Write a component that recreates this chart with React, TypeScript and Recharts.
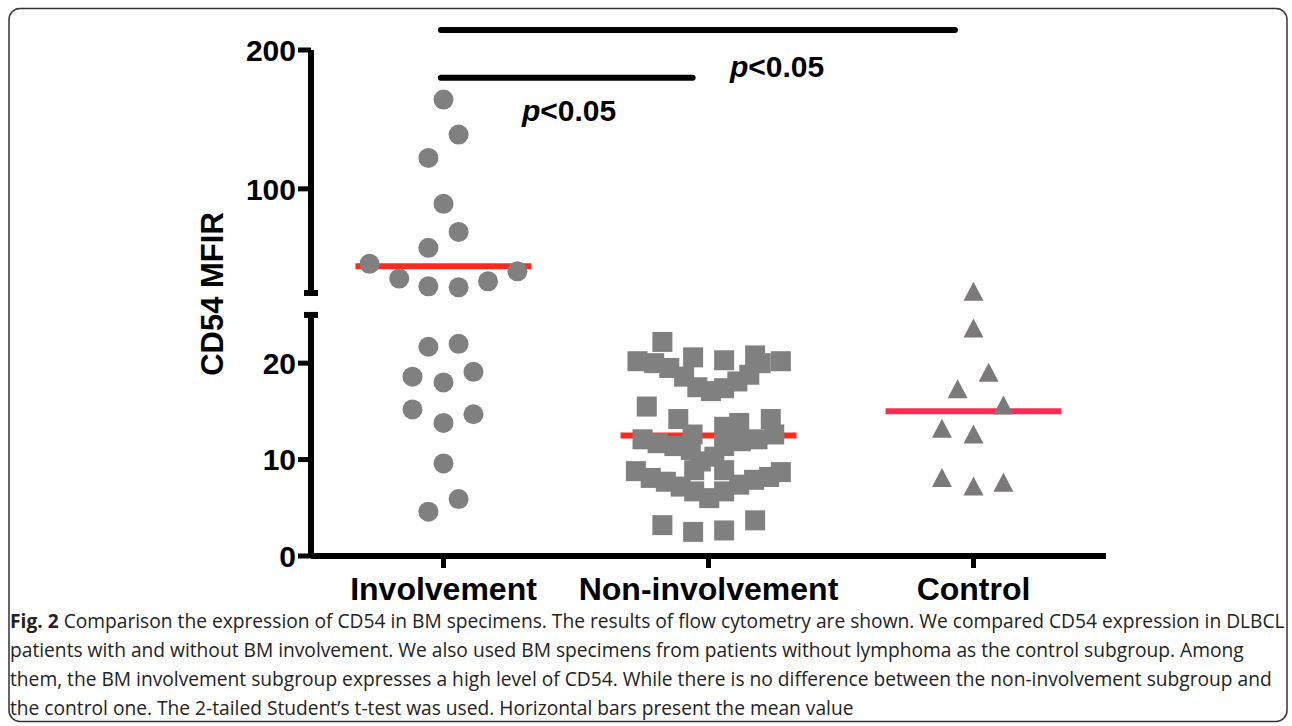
import React from 'react';
import { ScatterChart, Scatter, XAxis, YAxis, ReferenceLine, ReferenceDot } from 'recharts';

const FONT = "Arial, 'Liberation Sans', Helvetica, sans-serif";
const CAPTION_FONT = "'Open Sans', 'Noto Sans', sans-serif";

// ---------- data ----------
const categories = ['Involvement', 'Non-involvement', 'Control'];
const categoryTicks = [1, 2, 3];
const upperTicks = [25, 100, 200];
const lowerTicks = [0, 10, 20, 25];
const breakValue = 25;
const yTitle = 'CD54 MFIR';

// Involvement, values on the upper (25-200) segment
const involvementHighValues = [164.3, 139.1, 122.3, 89.2, 69.0, 57.5, 46.0, 40.6, 35.4, 33.4, 29.8, 29.1];
const involvementHighOffsets = [0, 0.057, -0.057, 0, 0.057, -0.057, -0.279, 0.279, -0.167, 0.168, -0.057, 0.057];
// Involvement, values on the lower (0-25) segment
const involvementLowValues = [21.7, 22.0, 18.6, 18.0, 19.1, 15.2, 13.8, 14.7, 9.6, 5.9, 4.6];
const involvementLowOffsets = [-0.057, 0.057, -0.117, 0, 0.113, -0.117, 0, 0.113, 0, 0.057, -0.057];

const nonInvolvementValues = [
  20.2, 20.0, 19.5, 18.6, 17.5, 17.1, 17.4, 18.1, 18.8, 20.0, 20.2,
  22.2, 20.6, 20.3, 20.8,
  15.5, 14.2, 13.8, 14.2,
  12.1, 11.7, 11.4, 11.0, 9.8, 10.3, 11.4, 13.4, 11.9, 12.1, 12.6, 12.6,
  8.8, 8.1, 7.7, 7.2, 6.7, 6.0, 6.7, 7.4, 7.9, 8.2, 8.7, 8.9, 8.9,
  3.2, 2.5, 2.65, 3.7,
];
const nonInvolvementOffsets = [
  -0.268, -0.205, -0.148, -0.092, -0.042, 0.009, 0.059, 0.109, 0.154, 0.197, 0.273,
  -0.174, -0.058, 0.059, 0.176,
  -0.233, -0.114, 0.116, 0.235,
  -0.249, -0.192, -0.129, -0.067, -0.029, 0.022, 0.059, 0.059, 0.122, 0.185, 0.248, -0.06,
  -0.274, -0.218, -0.161, -0.105, -0.054, 0.003, 0.059, 0.116, 0.172, 0.229, 0.273, -0.054, 0.059,
  -0.174, -0.058, 0.059, 0.176,
];

const controlValues = [27.4, 23.6, 19.0, 17.3, 15.6, 13.2, 12.6, 8.1, 7.2, 7.6];
const controlOffsets = [0, 0, 0.057, -0.06, 0.113, -0.119, 0, -0.119, 0, 0.113];

const groupMeans = [44.2, 12.5, 15.0];

// significance brackets (x in category units, y in upper-segment units)
const comparisonFrom = [0.99, 0.99];
const comparisonTo = [2.93, 1.94];
const comparisonHeights = [214.4, 180.0];
const comparisonLabels = ['p<0.05', 'p<0.05'];
const comparisonLabelX = [2.259, 1.474];
const comparisonLabelY = [180.6, 149.2];

const captionLines = [
  ' Comparison the expression of CD54 in BM specimens. The results of flow cytometry are shown. We compared CD54 expression in DLBCL',
  'patients with and without BM involvement. We also used BM specimens from patients without lymphoma as the control subgroup. Among',
  'them, the BM involvement subgroup expresses a high level of CD54. While there is no difference between the non-involvement subgroup and',
  "the control one. The 2-tailed Student\u2019s t-test was used. Horizontal bars present the mean value",
];
const captionLead = 'Fig. 2';

// ---------- styles ----------
const POINT_GRAY = '#808080';
const TRI_GRAY = '#7c797a';
const MEAN_RED = ['#ff2a1e', '#ff2a1e', '#ff2a52'];
const MEAN_HALF = 0.332;
const TICK_SIZE = 13;
const TICK_MARGIN = 2;

const toPoints = (center: number, values: number[], offsets: number[]) =>
  values.map((v, i) => ({ x: center + offsets[i], y: v }));

const CircleShape = (p: any) => <circle cx={p.cx} cy={p.cy} r={10} fill={POINT_GRAY} />;
const SquareShape = (p: any) => <rect x={p.cx - 10} y={p.cy - 10} width={20} height={20} fill={POINT_GRAY} />;
const TriangleShape = (p: any) => (
  <path d={`M${p.cx},${p.cy - 10} L${p.cx + 10},${p.cy + 9} L${p.cx - 10},${p.cy + 9} Z`} fill={TRI_GRAY} />
);

const YTick = (props: any) => {
  const { x, y, payload } = props;
  const axisX = x + TICK_SIZE + TICK_MARGIN;
  if (payload.value === breakValue) {
    return <line x1={axisX - 7} x2={axisX + 7} y1={y} y2={y} stroke="#000" strokeWidth={6} />;
  }
  return (
    <g>
      <line x1={axisX - TICK_SIZE} x2={axisX} y1={y} y2={y} stroke="#000" strokeWidth={5} />
      <text x={x} y={y} dy="0.355em" textAnchor="end" fontFamily={FONT} fontSize={30} fontWeight={700} fill="#000">
        {payload.value}
      </text>
    </g>
  );
};

const PShape = (label: string) => (p: any) => (
  <text x={p.cx} y={p.cy} textAnchor="middle" fontFamily={FONT} fontSize={30} fontWeight={700} fill="#000">
    <tspan fontStyle="italic">{label.charAt(0)}</tspan>
    {label.slice(1)}
  </text>
);

const abs = (top: number): React.CSSProperties => ({ position: 'absolute', left: 0, top });

export default function App() {
  const invHigh = toPoints(categoryTicks[0], involvementHighValues, involvementHighOffsets);
  const invLow = toPoints(categoryTicks[0], involvementLowValues, involvementLowOffsets);
  const nonInv = toPoints(categoryTicks[1], nonInvolvementValues, nonInvolvementOffsets);
  const ctrl = toPoints(categoryTicks[2], controlValues, controlOffsets);

  return (
    <div style={{ position: 'absolute', left: 0, top: 0, width: 1292, height: 726, background: '#fff', overflow: 'hidden' }}>
      {/* lower segment: 0-25 */}
      <div style={abs(0)}>
        <ScatterChart width={1292} height={640} margin={{ top: 286, right: 186, bottom: 24, left: 0 }}>
          <XAxis
            type="number"
            dataKey="x"
            domain={[0.5, 3.5]}
            ticks={categoryTicks}
            interval={0}
            height={60}
            tickFormatter={(v: number) => categories[categoryTicks.indexOf(v)] ?? ''}
            axisLine={{ stroke: '#000', strokeWidth: 6 }}
            tickLine={{ stroke: '#000', strokeWidth: 5 }}
            tickSize={12}
            tickMargin={9}
            tick={{ fontFamily: FONT, fontSize: 32, fontWeight: 700, fill: '#000' }}
          />
          <YAxis
            type="number"
            dataKey="y"
            domain={[0, 28]}
            ticks={lowerTicks}
            interval={0}
            width={311}
            axisLine={false}
            tickLine={false}
            tickSize={TICK_SIZE}
            tickMargin={TICK_MARGIN}
            tick={YTick}
          />
          <ReferenceLine
            segment={[{ x: 0.5, y: 0 }, { x: 0.5, y: breakValue }]}
            stroke="#000"
            strokeWidth={6}
          />
          <Scatter data={invLow} shape={CircleShape} isAnimationActive={false} />
          <Scatter data={nonInv} shape={SquareShape} isAnimationActive={false} />
          <Scatter data={ctrl} shape={TriangleShape} isAnimationActive={false} />
          {[1, 2].map((g) => (
            <ReferenceLine
              key={g}
              segment={[
                { x: categoryTicks[g] - MEAN_HALF, y: groupMeans[g] },
                { x: categoryTicks[g] + MEAN_HALF, y: groupMeans[g] },
              ]}
              stroke={MEAN_RED[g]}
              strokeWidth={6}
            />
          ))}
        </ScatterChart>
      </div>

      {/* upper segment: 25-200 */}
      <div style={abs(0)}>
        <ScatterChart width={1292} height={320} margin={{ top: 50, right: 186, bottom: 27, left: 0 }}>
          <XAxis type="number" dataKey="x" domain={[0.5, 3.5]} hide height={0} />
          <YAxis
            type="number"
            dataKey="y"
            domain={[breakValue, 200]}
            ticks={upperTicks}
            interval={0}
            width={311}
            axisLine={{ stroke: '#000', strokeWidth: 6 }}
            tickLine={false}
            tickSize={TICK_SIZE}
            tickMargin={TICK_MARGIN}
            tick={YTick}
          />
          <Scatter data={invHigh} shape={CircleShape} isAnimationActive={false} />
          <ReferenceLine
            segment={[
              { x: categoryTicks[0] - MEAN_HALF, y: groupMeans[0] },
              { x: categoryTicks[0] + MEAN_HALF, y: groupMeans[0] },
            ]}
            stroke={MEAN_RED[0]}
            strokeWidth={6}
          />
          {comparisonHeights.map((h, i) => (
            <ReferenceLine
              key={'c' + i}
              segment={[{ x: comparisonFrom[i], y: h }, { x: comparisonTo[i], y: h }]}
              stroke="#000"
              strokeWidth={6}
              strokeLinecap="round"
              ifOverflow="visible"
            />
          ))}
          {comparisonLabels.map((l, i) => (
            <ReferenceDot
              key={'l' + i}
              x={comparisonLabelX[i]}
              y={comparisonLabelY[i]}
              r={0}
              shape={PShape(l)}
              ifOverflow="visible"
            />
          ))}
        </ScatterChart>
      </div>

      {/* frame, axis title and caption */}
      <svg width={1292} height={726} style={{ position: 'absolute', left: 0, top: 0, pointerEvents: 'none' }}>
        <rect x={9} y={8.5} width={1278} height={713} rx={11} ry={11} fill="none" stroke="#333" strokeWidth={1.5} />
        <text
          x={223}
          y={294}
          transform="rotate(-90 223 294)"
          textAnchor="middle"
          fontFamily={FONT}
          fontSize={31}
          fontWeight={700}
          fill="#000"
        >
          {yTitle}
        </text>
        {captionLines.map((line, i) => (
          <text key={i} x={10} y={628 + i * 29} fontFamily={CAPTION_FONT} fontSize={19.2} fill="#222">
            {i === 0 ? <tspan fontWeight={700}>{captionLead}</tspan> : null}
            {line}
          </text>
        ))}
      </svg>
    </div>
  );
}
